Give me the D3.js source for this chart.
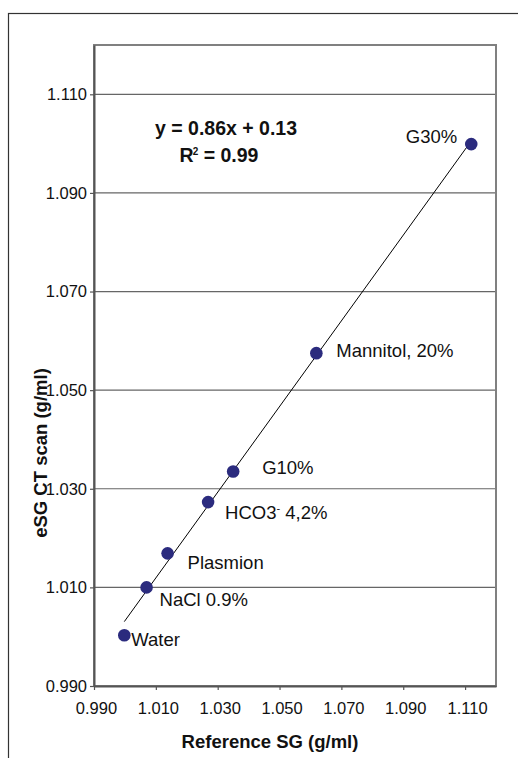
<!DOCTYPE html>
<html>
<head>
<meta charset="utf-8">
<script src="https://cdn.jsdelivr.net/npm/d3@7"></script>
<style>
  body { margin: 0; background: #fff; }
  svg { display: block; font-family: "Liberation Sans", Arial, sans-serif; }
</style>
</head>
<body>
<div id="chart"></div>
<script>
// solutions measured: reference SG vs CT estimated SG
var labels = ["Water", "NaCl 0.9%", "Plasmion", "HCO3", "G10%", "Mannitol, 20%", "G30%"];
var refSG  = [0.9998, 1.0070, 1.0138, 1.0269, 1.0350, 1.0619, 1.1120];
var ctSG   = [1.0003, 1.0100, 1.0169, 1.0273, 1.0335, 1.0575, 1.0999];
var tickValues = [0.990, 1.010, 1.030, 1.050, 1.070, 1.090, 1.110];
var equationText = "y = 0.86x + 0.13";
var r2Text = "= 0.99";

// label placement relative to each point (px)
var labelOffsets = [[7, 11], [13, 19], [20, 16], [17, 17], [29, 2], [20, 4], [-14, -1]];

var W = 518, H = 758;
var margin = { top: 45, right: 22, bottom: 72, left: 94 };

var x = d3.scaleLinear().domain([0.990, 1.120]).range([margin.left, W - margin.right]);
var y = d3.scaleLinear().domain([0.990, 1.120]).range([H - margin.bottom, margin.top]);

var svg = d3.select("#chart").append("svg")
  .attr("width", W).attr("height", H);

// outer chart frame (runs off the right/bottom edge)
svg.append("rect")
  .attr("x", 8.5).attr("y", 13.5)
  .attr("width", W + 10).attr("height", H + 10)
  .attr("fill", "none").attr("stroke", "#333").attr("stroke-width", 1.2);

// grid lines
svg.append("g").selectAll("line")
  .data(tickValues)
  .enter().append("line")
  .attr("x1", x.range()[0]).attr("x2", x.range()[1])
  .attr("y1", (d) => y(d)).attr("y2", (d) => y(d))
  .attr("stroke", "#666").attr("stroke-width", 1.2);

// plot frame
svg.append("rect")
  .attr("x", x.range()[0]).attr("y", y.range()[1])
  .attr("width", x.range()[1] - x.range()[0])
  .attr("height", y.range()[0] - y.range()[1])
  .attr("fill", "none").attr("stroke", "#808080").attr("stroke-width", 2);

var xAxis = d3.axisBottom(x).tickValues(tickValues).tickFormat(d3.format(".3f"))
  .tickSize(4).tickSizeOuter(0).tickPadding(12);
var yAxis = d3.axisLeft(y).tickValues(tickValues).tickFormat(d3.format(".3f"))
  .tickSize(4).tickSizeOuter(0).tickPadding(3);

var gx = svg.append("g")
  .attr("transform", "translate(0," + y.range()[0] + ")")
  .call(xAxis);
var gy = svg.append("g")
  .attr("transform", "translate(" + x.range()[0] + ",0)")
  .call(yAxis);

[gx, gy].forEach(function(g) {
  g.select(".domain").attr("stroke", "#555").attr("stroke-width", 2);
  g.selectAll(".tick line").attr("stroke", "#555").attr("stroke-width", 1.2);
  g.selectAll(".tick text").attr("fill", "#111").attr("font-size", 16.5)
    .attr("font-family", "Liberation Sans, Arial, sans-serif");
});
gx.selectAll(".tick text").attr("dx", 2);

// least squares trend line across the data range
var mx = d3.mean(refSG), my = d3.mean(ctSG);
var sxy = d3.sum(refSG, (v, i) => (v - mx) * (ctSG[i] - my));
var sxx = d3.sum(refSG, (v) => (v - mx) * (v - mx));
var slope = sxy / sxx, icpt = my - slope * mx;
var xMin = d3.min(refSG), xMax = d3.max(refSG);

svg.append("line")
  .attr("x1", x(xMin)).attr("y1", y(slope * xMin + icpt))
  .attr("x2", x(xMax)).attr("y2", y(slope * xMax + icpt))
  .attr("stroke", "#000").attr("stroke-width", 1);

var pts = refSG.map((v, i) => ({ x: v, y: ctSG[i], label: labels[i], off: labelOffsets[i] }));

svg.append("g").selectAll("circle")
  .data(pts)
  .enter().append("circle")
  .attr("cx", (d) => x(d.x)).attr("cy", (d) => y(d.y))
  .attr("r", 6.3)
  .attr("fill", "#2b2b7e");

var lab = svg.append("g").selectAll("text")
  .data(pts)
  .enter().append("text")
  .attr("x", (d) => x(d.x) + d.off[0])
  .attr("y", (d) => y(d.y) + d.off[1])
  .attr("text-anchor", (d) => d.off[0] < 0 ? "end" : "start")
  .attr("font-size", 18.5)
  .attr("fill", "#111");

lab.each(function(d) {
  var t = d3.select(this);
  if (d.label === "HCO3") {
    t.append("tspan").text("HCO3");
    t.append("tspan").attr("font-size", 11).attr("dy", -7).text("-");
    t.append("tspan").attr("dy", 7).text(" 4,2%");
  } else {
    t.text(d.label);
  }
});

// regression equation
var eq = svg.append("g").attr("font-weight", "bold").attr("font-size", 19.5).attr("fill", "#111");
eq.append("text")
  .attr("x", 226).attr("y", 135).attr("text-anchor", "middle")
  .text(equationText);
var r2 = eq.append("text")
  .attr("x", 219).attr("y", 162).attr("text-anchor", "middle");
r2.append("tspan").text("R");
r2.append("tspan").attr("font-size", 10).attr("dx", -1).attr("dy", -7).text("2");
r2.append("tspan").attr("dy", 7).text(" " + r2Text);

// axis titles
svg.append("text")
  .attr("x", 270).attr("y", 748)
  .attr("text-anchor", "middle")
  .attr("font-weight", "bold").attr("font-size", 18.5).attr("fill", "#111")
  .text("Reference SG (g/ml)");

svg.append("text")
  .attr("transform", "translate(47,453) rotate(-90)")
  .attr("text-anchor", "middle")
  .attr("font-weight", "bold").attr("font-size", 18.5).attr("fill", "#111")
  .text("eSG CT scan (g/ml)");
</script>
</body>
</html>
